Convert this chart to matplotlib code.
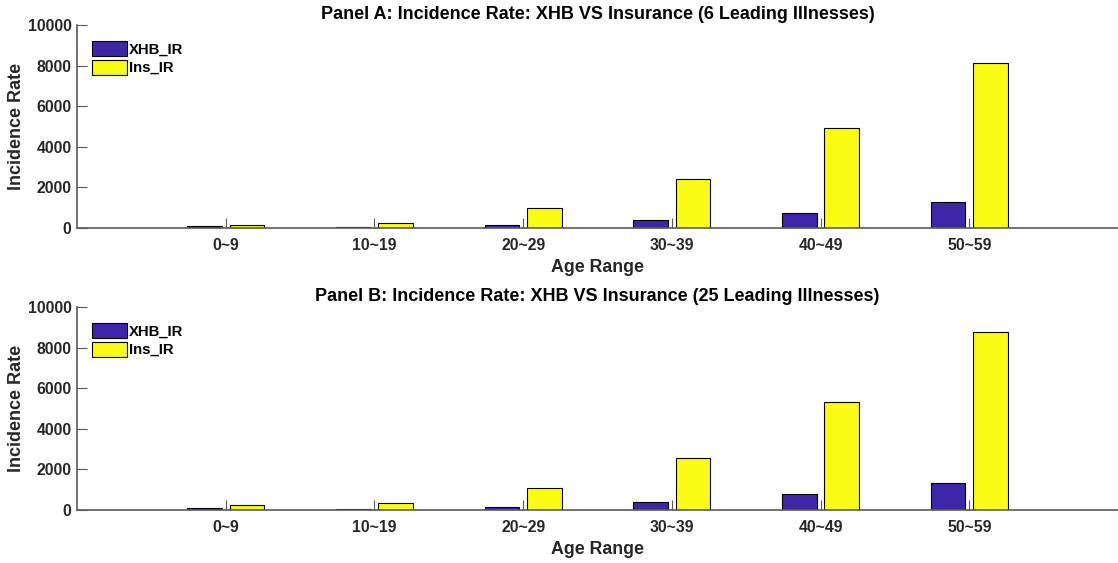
import matplotlib
matplotlib.use("Agg")
import matplotlib.pyplot as plt
import numpy as np

plt.rcParams['font.family'] = ['Liberation Sans', 'DejaVu Sans']
plt.rcParams['font.weight'] = 'bold'

categories = ["0~9", "10~19", "20~29", "30~39", "40~49", "50~59"]
xhb_a = [80, 50, 150, 380, 760, 1280]
ins_a = [165, 250, 990, 2390, 4930, 8120]
xhb_b = [100, 65, 165, 410, 790, 1310]
ins_b = [260, 330, 1100, 2570, 5300, 8770]
titles = ["Panel A: Incidence Rate: XHB VS Insurance (6 Leading Illnesses)",
          "Panel B: Incidence Rate: XHB VS Insurance (25 Leading Illnesses)"]
series_names = ["XHB_IR", "Ins_IR"]

c_blue = "#3E26A8"
c_yel = "#F9FB15"
axc = "#5a5a5a"

fig = plt.figure(figsize=(11.18, 5.63), dpi=100)
W, H = 1118, 563
left, width = 77 / W, 1041 / W
axes_specs = [(228, 25), (510, 307)]

x = np.arange(1, len(categories) + 1)
off = 0.142
bw = 0.232

for (bot, top), title, xv, iv in zip(axes_specs, titles, [xhb_a, xhb_b], [ins_a, ins_b]):
    ax = fig.add_axes([left, (H - bot) / H, width, (bot - top) / H])
    ax.bar(x - off, xv, bw, color=c_blue, edgecolor="black", linewidth=0.8, label=series_names[0], zorder=2)
    ax.bar(x + off, iv, bw, color=c_yel, edgecolor="black", linewidth=0.8, label=series_names[1], zorder=2)
    ax.set_xlim(0, 7)
    ax.set_ylim(0, 10000)
    ax.set_yticks([0, 2000, 4000, 6000, 8000, 10000])
    ax.set_xticks(x)
    ax.set_xticklabels(categories)
    for s in ["top", "right"]:
        ax.spines[s].set_visible(False)
    for s in ["left", "bottom"]:
        ax.spines[s].set_color(axc)
        ax.spines[s].set_linewidth(1.2)
        ax.spines[s].set_zorder(3)
    ax.tick_params(direction="in", length=7.5, width=0.8, color=axc, labelsize=11.3,
                   labelcolor="#262626")
    ax.tick_params(axis="x", pad=7.5)
    ax.tick_params(axis="y", pad=4)
    for lab in ax.get_xticklabels() + ax.get_yticklabels():
        lab.set_fontweight("bold")
    ax.set_title(title, fontsize=13, fontweight="bold", pad=4, color="black")
    ax.set_xlabel("Age Range", fontsize=12.8, fontweight="bold", color="#262626", labelpad=4)
    ax.set_ylabel("Incidence Rate", fontsize=13, fontweight="bold", color="#262626", labelpad=2)
    leg = ax.legend(loc="upper left", frameon=False, fontsize=10.7, handlelength=2.35,
                    handleheight=1.15, handletextpad=0.15, labelspacing=0.22,
                    borderaxespad=0.0, bbox_to_anchor=(0.0085, 0.95))
    for t in leg.get_texts():
        t.set_fontweight("bold")

fig.savefig("out.png", dpi=100)
